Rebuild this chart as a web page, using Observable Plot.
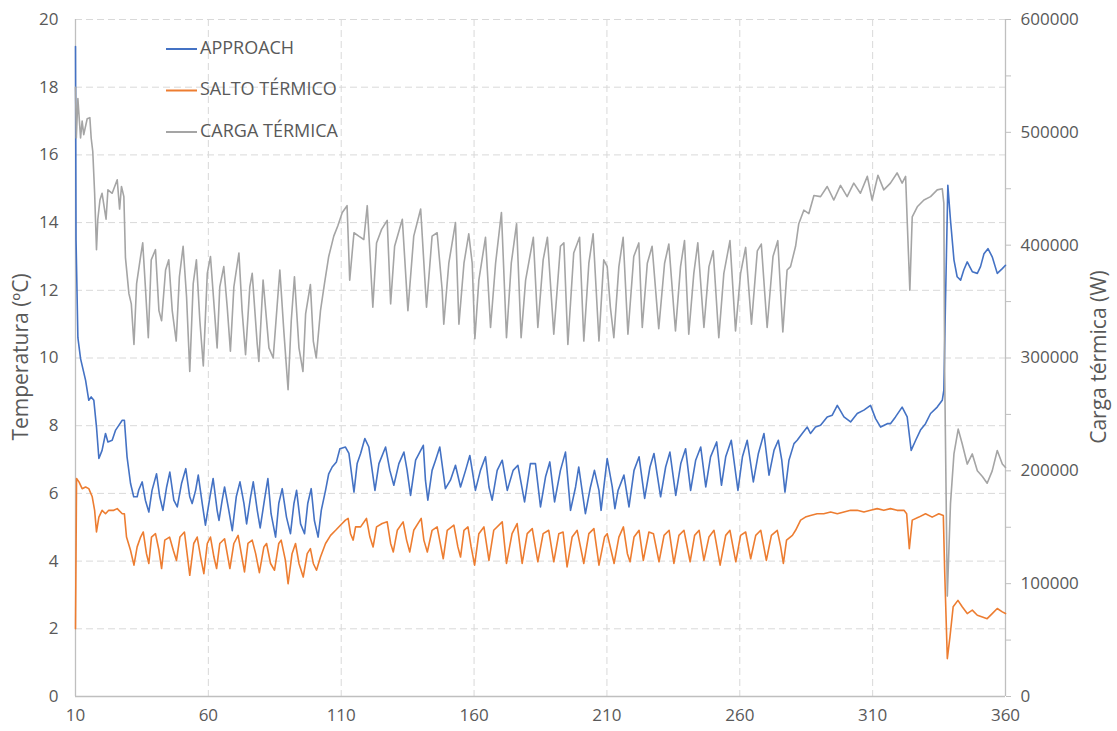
<!DOCTYPE html>
<html>
<head>
<meta charset="utf-8">
<script src="https://cdn.jsdelivr.net/npm/d3@7"></script>
<script src="https://cdn.jsdelivr.net/npm/@observablehq/plot@0.6"></script>
<style>
  html, body { margin: 0; padding: 0; background: #ffffff; }
  #chart { width: 1117px; height: 731px; position: relative; }
</style>
</head>
<body>
<div id="chart"></div>
<script>
// ---------------- DATA ----------------
const seriesNames = ["APPROACH", "SALTO TÉRMICO", "CARGA TÉRMICA"];
const seriesColors = ["#4472C4", "#ED7D31", "#A5A5A5"];

const xTicks = [10, 60, 110, 160, 210, 260, 310, 360];
const tempTicks = [0, 2, 4, 6, 8, 10, 12, 14, 16, 18, 20];
const loadTicks = [0, 100000, 200000, 300000, 400000, 500000, 600000];
const loadMinorTicks = [50000, 150000, 250000, 350000, 450000, 550000];
const loadMax = 600000;
const tempMax = 20;

// APPROACH (ºC) : [x, value]
const approach = [
[10.0,19.2],[10.2,13.5],[10.9,10.6],[11.9,9.98],[13.8,9.34],[15.0,8.75],[15.9,8.85],[16.9,8.75],[17.9,7.96],[18.8,7.03],
[20.0,7.27],[21.3,7.77],[22.2,7.52],[23.8,7.57],[25.1,7.87],[26.3,8.01],[27.6,8.16],[28.4,8.16],[29.4,7.08],[30.7,6.3],
[31.9,5.9],[33.2,5.9],[33.8,6.1],[35.1,6.34],[36.3,5.8],[37.6,5.45],[38.8,6.09],[40.5,6.58],[41.7,5.9],[42.9,5.5],
[44.3,6.19],[45.5,6.63],[47.0,5.8],[48.3,5.6],[49.9,6.29],[51.5,6.73],[53.0,5.9],[53.9,5.7],[55.2,6.09],[56.2,6.54],
[57.7,5.7],[58.9,5.06],[60.6,5.9],[61.8,6.44],[63.3,5.5],[64.0,5.2],[65.2,5.8],[66.1,6.19],[67.7,5.5],[69.0,4.9],
[70.5,5.9],[71.9,6.34],[73.4,5.7],[74.4,5.1],[75.9,5.9],[76.9,6.34],[78.4,5.5],[79.5,4.98],[81.1,5.8],[82.4,6.44],
[83.6,5.4],[85.3,4.71],[86.5,5.7],[87.8,6.14],[89.4,5.3],[90.9,4.81],[92.2,5.7],[93.2,6.09],[94.7,5.1],[96.2,4.81],
[97.4,5.7],[98.7,6.14],[99.9,5.2],[101.3,4.71],[102.5,5.5],[104.1,6.09],[105.3,6.58],[106.6,6.78],[108.2,6.93],[109.5,7.32],
[111.6,7.37],[112.9,7.18],[114.8,6.04],[116.0,6.88],[117.3,7.18],[118.9,7.62],[120.4,7.37],[121.3,6.88],[122.7,6.09],[124.2,6.88],
[126.7,7.37],[128.3,6.68],[129.8,6.24],[131.7,6.88],[133.6,7.22],[134.8,6.68],[136.1,5.94],[138.0,6.98],[140.9,7.42],[141.7,6.39],
[142.6,5.8],[144.2,6.68],[145.5,6.98],[147.1,7.37],[149.2,6.14],[151.1,6.39],[153.0,6.83],[154.9,6.19],[156.8,6.68],[158.4,7.12],
[159.9,6.39],[160.5,6.09],[162.4,6.68],[164.3,7.08],[165.6,6.19],[166.8,5.8],[168.7,6.68],[170.6,6.98],[172.5,6.09],[174.7,6.68],
[176.5,6.83],[179.0,5.75],[181.2,6.88],[183.1,6.88],[185.0,5.6],[186.9,6.49],[188.5,6.93],[190.3,5.75],[192.5,6.68],[194.4,7.22],
[196.3,5.5],[198.2,6.19],[199.4,6.78],[201.9,5.4],[203.8,6.19],[205.3,6.68],[207.0,6.09],[207.8,5.5],[210.1,7.03],[212.0,6.19],
[213.0,5.55],[214.2,6.09],[216.4,6.54],[218.3,5.6],[220.2,6.68],[222.1,7.08],[224.2,5.85],[226.2,6.78],[227.7,7.18],[230.2,5.9],
[232.1,6.78],[233.7,7.22],[235.9,5.94],[237.8,6.88],[239.6,7.32],[241.5,6.09],[243.4,6.98],[245.3,7.37],[247.2,6.19],[249.0,7.08],
[251.3,7.52],[253.1,6.24],[254.7,7.08],[256.8,7.57],[259.3,6.09],[261.0,7.08],[262.8,7.57],[265.1,6.34],[267.0,7.18],[269.1,7.77],
[271.0,6.54],[272.9,7.28],[274.5,7.57],[275.8,6.98],[277.0,6.04],[278.5,6.98],[280.4,7.47],[281.6,7.57],[283.5,7.77],[285.4,7.96],
[286.6,7.77],[288.5,7.96],[290.4,8.01],[292.9,8.26],[294.8,8.31],[296.7,8.6],[299.2,8.26],[301.7,8.11],[304.2,8.36],[306.7,8.46],
[309.2,8.6],[311.1,8.21],[313.0,7.96],[315.5,8.06],[316.7,8.06],[318.6,8.26],[321.1,8.55],[323.0,8.26],[324.5,7.27],[326.2,7.57],
[328.0,7.87],[329.9,8.06],[331.8,8.36],[334.3,8.55],[336.2,8.75],[336.8,9.05],[337.4,11.6],[338.3,15.1],[339.3,14.07],[340.6,12.9],
[341.8,12.4],[343.1,12.3],[344.3,12.6],[345.6,12.84],[347.5,12.55],[349.4,12.5],[350.6,12.7],[351.9,13.08],[353.4,13.23],[355.0,12.99],
[356.9,12.5],[358.8,12.64],[360.0,12.74]
];

// SALTO TÉRMICO (ºC) : [x, value]
const salto = [
[10.0,2.0],[10.4,6.44],[11.3,6.34],[12.5,6.14],[13.8,6.19],[15.0,6.14],[16.3,5.9],[17.2,5.5],[17.9,4.86],[18.8,5.3],
[20.0,5.5],[21.3,5.4],[22.5,5.5],[24.4,5.5],[25.7,5.55],[27.6,5.4],[28.4,5.4],[29.2,4.71],[30.7,4.32],[32.0,3.88],
[33.2,4.42],[34.5,4.71],[35.5,4.86],[36.7,4.22],[37.6,3.93],[38.6,4.71],[40.1,4.81],[41.4,4.32],[42.4,3.78],[43.6,4.62],
[45.4,4.71],[46.8,4.32],[48.0,4.02],[49.3,4.71],[51.0,4.86],[52.0,4.22],[53.0,3.58],[54.5,4.52],[55.8,4.71],[57.1,4.12],
[58.3,3.63],[59.6,4.52],[60.8,4.71],[62.1,4.12],[63.1,3.78],[64.3,4.52],[66.1,4.66],[67.1,4.22],[68.1,3.78],[69.6,4.52],
[71.2,4.76],[72.4,4.22],[73.6,3.68],[74.9,4.52],[76.5,4.62],[77.8,4.22],[79.2,3.66],[80.9,4.42],[81.9,4.52],[83.4,3.93],
[84.9,3.73],[86.5,4.52],[87.4,4.62],[89.0,4.02],[90.0,3.33],[91.5,4.22],[92.8,4.52],[94.1,3.93],[95.7,3.53],[97.2,4.22],
[98.4,4.37],[99.5,3.93],[100.7,3.73],[102.2,4.12],[104.1,4.52],[106.0,4.76],[107.9,4.91],[109.7,5.06],[111.6,5.21],[112.6,5.26],
[113.5,4.81],[114.5,4.62],[115.4,5.01],[117.3,5.01],[119.5,5.26],[120.8,4.71],[122.0,4.42],[123.3,5.01],[125.4,5.11],[127.3,5.16],
[128.6,4.52],[129.6,4.27],[131.1,4.91],[133.3,5.16],[134.6,4.62],[135.8,4.27],[137.3,4.91],[140.1,5.26],[141.1,4.62],[142.4,4.27],
[144.2,4.91],[146.1,5.01],[148.4,4.07],[149.9,4.91],[152.4,5.06],[153.9,4.42],[154.9,4.12],[156.2,4.91],[157.7,5.01],[158.9,4.42],
[160.2,3.88],[161.8,4.81],[163.7,5.01],[165.6,4.02],[167.4,4.91],[170.6,5.16],[172.2,3.93],[174.3,4.81],[176.2,5.11],[178.1,3.93],
[180.0,4.81],[181.9,4.96],[184.0,3.98],[186.0,4.81],[188.1,4.91],[190.0,3.98],[191.9,4.81],[193.5,4.86],[195.0,3.83],[196.9,4.71],
[198.8,4.91],[201.3,3.93],[203.2,4.81],[205.1,4.96],[207.0,3.88],[209.1,4.71],[210.1,4.81],[212.7,3.93],[214.5,4.71],[216.2,5.01],
[217.7,4.22],[218.7,3.98],[220.2,4.71],[222.1,4.91],[223.7,4.02],[225.8,4.86],[227.5,4.81],[229.6,3.98],[231.5,4.76],[233.4,4.91],
[235.2,3.93],[237.1,4.76],[239.0,4.91],[241.3,3.98],[243.0,4.76],[244.7,4.91],[246.5,4.02],[248.4,4.71],[250.3,4.91],[252.6,3.88],
[254.7,4.76],[256.3,4.91],[258.5,3.98],[260.3,4.76],[262.2,4.86],[264.1,4.07],[266.0,4.76],[267.9,4.91],[270.0,4.02],[271.9,4.76],
[274.1,4.91],[275.4,4.42],[276.4,3.93],[277.6,4.62],[279.8,4.76],[281.0,4.91],[282.9,5.21],[284.7,5.3],[286.6,5.35],[289.1,5.4],
[291.6,5.4],[294.2,5.45],[296.7,5.4],[299.2,5.45],[301.7,5.5],[304.2,5.5],[306.7,5.45],[309.2,5.5],[311.7,5.55],[314.2,5.5],
[316.7,5.55],[319.2,5.5],[321.8,5.5],[322.8,5.4],[323.8,4.37],[324.9,5.21],[327.4,5.3],[329.9,5.4],[332.4,5.3],[334.9,5.4],
[336.6,5.35],[337.1,3.73],[338.1,1.12],[339.1,1.76],[340.3,2.65],[342.1,2.84],[343.7,2.65],[345.6,2.45],[347.5,2.55],[349.4,2.4],
[351.3,2.35],[353.1,2.3],[355.0,2.45],[356.9,2.6],[358.8,2.5],[360.0,2.45]
];

// CARGA TÉRMICA (W) : [x, value]
const carga = [
[10.0,540000],[10.3,495000],[10.9,530000],[11.9,495000],[12.5,510000],[13.1,498000],[14.4,512000],[15.4,513000],[15.9,495000],[16.5,483000],
[17.2,446000],[17.9,396000],[18.4,423000],[19.2,440000],[20.0,446000],[21.5,423000],[22.2,449000],[23.8,446000],[25.7,458000],[26.6,432000],
[27.3,452000],[28.2,443000],[28.8,389000],[30.1,357000],[31.0,348000],[32.0,312000],[33.0,366000],[34.5,390000],[35.3,402000],[36.3,363000],
[37.4,318000],[38.5,387000],[40.1,396000],[41.4,342000],[42.4,333000],[43.9,378000],[45.1,387000],[46.4,342000],[47.9,315000],[49.1,372000],
[50.5,399000],[51.8,354000],[53.0,288000],[54.3,366000],[55.5,387000],[56.8,333000],[58.1,293000],[59.6,375000],[60.8,390000],[62.1,348000],
[63.3,309000],[64.3,363000],[65.8,381000],[67.1,345000],[68.3,306000],[69.6,363000],[71.5,393000],[72.7,342000],[74.0,303000],[75.6,363000],
[76.5,375000],[78.4,312000],[79.0,297000],[80.6,369000],[82.8,309000],[84.4,300000],[86.9,378000],[88.4,324000],[90.0,272000],[91.2,333000],
[92.4,372000],[94.1,309000],[95.6,288000],[96.6,339000],[98.4,365000],[99.5,315000],[100.6,300000],[102.2,342000],[103.7,366000],[105.3,390000],
[107.2,408000],[108.7,417000],[110.4,429000],[112.2,435000],[113.2,369000],[114.8,411000],[116.6,408000],[118.5,405000],[119.8,435000],[120.8,393000],
[121.9,345000],[123.3,402000],[125.2,414000],[127.3,422000],[128.6,348000],[130.1,399000],[133.0,423000],[135.1,342000],[137.3,408000],[139.9,432000],
[142.1,345000],[144.2,408000],[146.1,411000],[148.0,360000],[148.6,330000],[150.5,384000],[153.0,420000],[154.3,330000],[156.2,384000],[158.0,410000],
[159.3,384000],[160.3,317000],[161.8,369000],[164.3,407000],[166.2,327000],[168.1,384000],[170.3,429000],[172.2,318000],[174.0,384000],[176.0,419000],
[177.7,318000],[179.4,369000],[182.3,407000],[184.0,327000],[186.0,387000],[187.6,407000],[190.0,321000],[192.5,399000],[193.8,402000],[195.3,312000],
[197.5,393000],[199.7,407000],[201.3,315000],[203.2,384000],[204.8,410000],[207.0,315000],[208.8,387000],[210.1,381000],[211.3,345000],[212.6,318000],
[214.5,381000],[216.1,407000],[217.9,321000],[220.1,390000],[222.0,402000],[223.3,327000],[225.2,384000],[227.0,399000],[229.5,326000],[231.7,384000],
[233.3,401000],[235.2,342000],[235.8,324000],[237.7,381000],[239.2,404000],[240.8,321000],[242.7,375000],[244.2,402000],[246.5,327000],[248.4,381000],
[250.0,395000],[252.1,318000],[254.0,375000],[256.3,404000],[258.4,324000],[260.3,375000],[262.2,398000],[264.4,330000],[266.6,395000],[268.1,401000],
[270.3,327000],[272.5,390000],[274.3,404000],[276.2,323000],[277.8,378000],[279.1,381000],[281.0,399000],[282.2,419000],[284.1,431000],[286.0,428000],
[287.9,444000],[290.4,443000],[292.9,452000],[295.4,440000],[297.9,453000],[300.4,443000],[302.9,455000],[305.4,446000],[308.0,461000],[309.8,440000],
[312.0,462000],[314.2,449000],[316.7,455000],[319.2,464000],[321.1,455000],[322.4,461000],[323.0,422000],[324.0,360000],[324.9,425000],[326.8,434000],
[329.3,440000],[331.8,443000],[334.3,449000],[336.2,450000],[336.8,437000],[337.1,288000],[338.1,89000],[339.3,171000],[340.6,215000],[342.2,237000],
[343.7,224000],[345.6,206000],[347.5,215000],[349.4,200000],[351.3,195000],[353.1,189000],[355.0,200000],[356.9,218000],[358.8,206000],[360.0,203000]
];

// ---------------- CHART ----------------
const toLeft = v => v * tempMax / loadMax;   // secondary axis -> primary axis units
const font = "'Open Sans', 'Noto Sans', sans-serif";
const textColor = "#595959";
const axisColor = "#bfbfbf";
const gridColor = "#d9d9d9";

const chart = Plot.plot({
  width: 1117,
  height: 731,
  marginLeft: 75,
  marginRight: 112,
  marginTop: 19,
  marginBottom: 35,
  style: { fontFamily: font, fontSize: "17px", color: textColor, background: "#ffffff" },
  x: { domain: [10, 360] },
  y: { domain: [0, 20] },
  marks: [
    Plot.gridY(tempTicks.filter(d => d > 0), { stroke: gridColor, strokeOpacity: 1, strokeDasharray: "7,4", strokeWidth: 1 }),
    Plot.gridX(xTicks.filter(d => d > 10 && d < 360), { stroke: gridColor, strokeOpacity: 1, strokeDasharray: "7,4", strokeWidth: 1 }),
    Plot.ruleY([0], { stroke: axisColor, strokeWidth: 1.3 }),
    Plot.ruleX([10, 360], { stroke: axisColor, strokeWidth: 1.3 }),
    Plot.axisY(tempTicks, { anchor: "left", tickSize: 0, tickPadding: 17, label: null, fill: textColor }),
    Plot.axisY(loadTicks.map(toLeft), { anchor: "right", tickSize: 5, tickPadding: 10, stroke: axisColor, label: null, fill: textColor,
      tickFormat: d => String(Math.round(d * loadMax / tempMax)) }),
    Plot.axisY(loadMinorTicks.map(toLeft), { anchor: "right", tickSize: 5, stroke: axisColor, label: null, tickFormat: () => "" }),
    Plot.axisX(xTicks, { tickSize: 0, tickPadding: 12, label: null, fill: textColor }),
    Plot.line(approach, { x: d => d[0], y: d => d[1], stroke: seriesColors[0], strokeWidth: 1.6 }),
    Plot.line(salto, { x: d => d[0], y: d => d[1], stroke: seriesColors[1], strokeWidth: 1.6 }),
    Plot.line(carga, { x: d => d[0], y: d => toLeft(d[1]), stroke: seriesColors[2], strokeWidth: 1.6 })
  ]
});

document.getElementById("chart").appendChild(chart);

// axis titles and legend
const svg = d3.select(chart);
svg.append("text")
  .attr("transform", "translate(22,357) rotate(-90)")
  .attr("text-anchor", "middle").attr("dominant-baseline", "middle")
  .attr("fill", textColor).style("font-family", font).style("font-size", "21px")
  .text("Temperatura (ºC)");
svg.append("text")
  .attr("transform", "translate(1100,357) rotate(-90)")
  .attr("text-anchor", "middle").attr("dominant-baseline", "middle")
  .attr("fill", textColor).style("font-family", font).style("font-size", "21px")
  .text("Carga térmica (W)");

const legend = svg.append("g").attr("text-anchor", "start");
seriesNames.forEach((name, i) => {
  const y = 49 + i * 41.5;
  legend.append("line").attr("x1", 166).attr("x2", 197).attr("y1", y).attr("y2", y)
    .attr("stroke", seriesColors[i]).attr("stroke-width", 2);
  legend.append("text").attr("x", 200).attr("y", y).attr("dominant-baseline", "middle")
    .attr("text-anchor", "start")
    .attr("fill", textColor).style("font-family", font).style("font-size", "18px")
    .text(name);
});
</script>
</body>
</html>
